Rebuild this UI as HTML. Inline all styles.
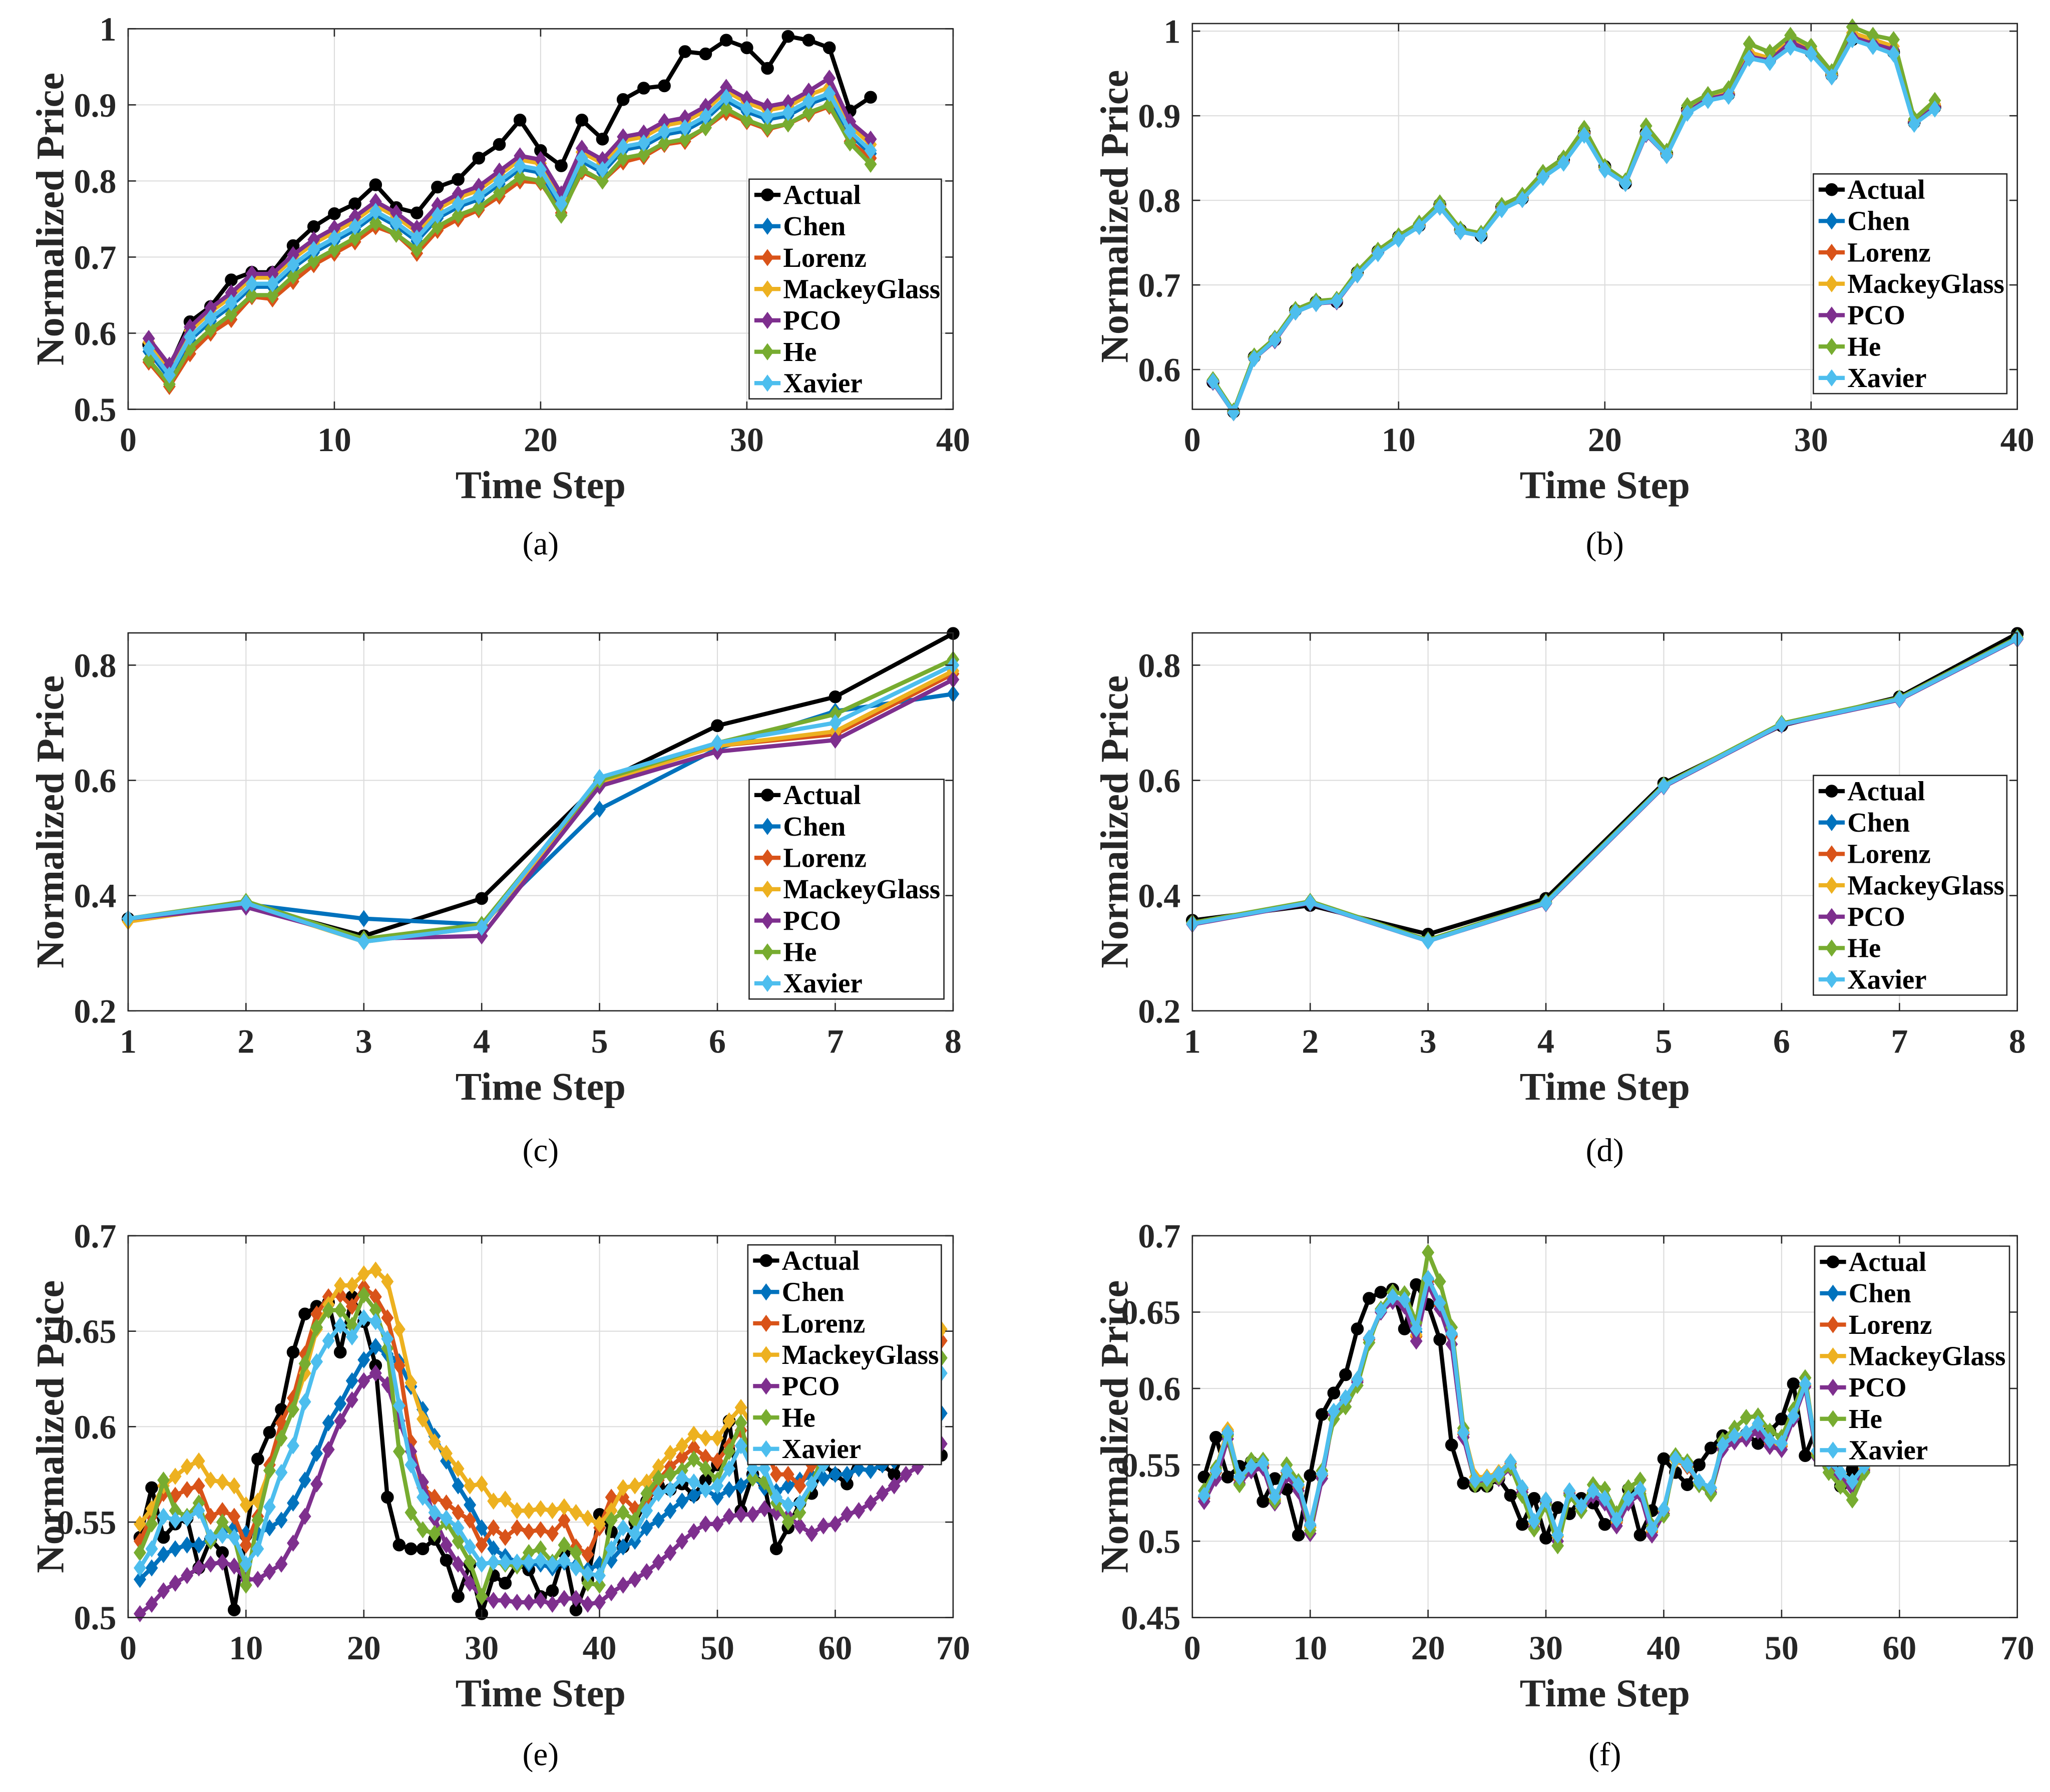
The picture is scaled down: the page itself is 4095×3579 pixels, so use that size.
<!DOCTYPE html>
<html><head><meta charset="utf-8"><title>Normalized price predictions</title>
<style>
html,body{margin:0;padding:0;background:#fff;}
svg{display:block;}
text{font-family:"Liberation Serif","Times New Roman",serif;}
</style></head>
<body>
<svg id="fig" width="4095" height="3579" viewBox="0 0 1568 1370.4" preserveAspectRatio="none" xmlns="http://www.w3.org/2000/svg"></svg>
<script>
// ---------- series names / colours ----------
const seriesNames = ["Actual","Chen","Lorenz","MackeyGlass","PCO","He","Xavier"];
const seriesColors = ["#000000","#0072BD","#D95319","#EDB120","#7E2F8E","#77AC30","#4DBEEE"];

// ---------- panel (a) ----------
const aActual = [.585,.555,.615,.635,.67,.68,.68,.715,.74,.757,.77,.795,.765,.758,.792,.802,.83,.848,.88,.84,.82,.88,.855,.907,.922,.925,.97,.967,.985,.975,.948,.99,.985,.975,.892,.91];
const aChen = [.576,.541,.591,.616,.636,.661,.661,.686,.706,.721,.736,.756,.741,.721,.751,.766,.776,.796,.816,.811,.766,.826,.811,.841,.846,.861,.866,.881,.906,.891,.881,.886,.901,.911,.861,.836];
const aLorenz = [.562,.53,.573,.6,.618,.648,.645,.668,.69,.705,.72,.74,.73,.705,.735,.75,.762,.78,.8,.798,.758,.812,.8,.825,.832,.848,.852,.87,.89,.878,.868,.875,.888,.898,.852,.83];
const aMackey = [.588,.553,.603,.628,.648,.673,.673,.698,.718,.733,.748,.768,.753,.733,.763,.778,.788,.808,.828,.823,.778,.838,.823,.853,.858,.873,.878,.893,.918,.903,.893,.898,.913,.923,.873,.848];
const aPCO = [.593,.558,.608,.633,.653,.678,.678,.703,.723,.738,.753,.773,.758,.738,.768,.783,.793,.813,.833,.828,.783,.843,.828,.858,.863,.878,.883,.898,.923,.908,.898,.903,.918,.935,.878,.855];
const aHe = [.565,.533,.58,.605,.625,.65,.65,.675,.695,.71,.725,.745,.73,.71,.74,.755,.765,.785,.805,.80,.755,.815,.80,.83,.835,.85,.855,.87,.895,.88,.87,.875,.89,.9,.85,.822];
const aXavier = [.58,.545,.595,.62,.64,.665,.665,.69,.71,.725,.74,.76,.745,.725,.755,.77,.78,.80,.82,.815,.77,.83,.815,.845,.85,.865,.87,.885,.91,.895,.885,.89,.905,.915,.865,.84];

// ---------- panel (b) ----------
const bActual = [.585,.55,.615,.635,.67,.68,.68,.715,.74,.757,.77,.795,.765,.758,.792,.802,.83,.848,.88,.84,.82,.88,.855,.907,.922,.925,.97,.967,.985,.975,.948,.99,.985,.975,.892,.91];
const bChen = [.585,.55,.613,.635,.668,.678,.682,.712,.738,.755,.77,.792,.765,.76,.79,.802,.828,.845,.878,.838,.822,.878,.855,.905,.92,.925,.968,.965,.982,.975,.948,.99,.982,.975,.892,.91];
const bLorenz = [.586,.549,.614,.636,.669,.679,.681,.713,.739,.756,.771,.793,.764,.759,.791,.803,.829,.846,.879,.837,.821,.879,.854,.906,.921,.926,.972,.966,.988,.977,.947,.995,.988,.978,.893,.912];
const bMackey = [.586,.55,.614,.635,.669,.679,.681,.713,.739,.756,.771,.794,.764,.759,.791,.803,.829,.846,.88,.838,.821,.88,.855,.907,.922,.927,.975,.968,.99,.979,.949,.998,.99,.982,.894,.914];
const bPCO = [.585,.549,.613,.634,.668,.678,.68,.712,.738,.755,.769,.792,.763,.758,.79,.801,.828,.845,.878,.836,.82,.878,.853,.905,.92,.925,.97,.965,.987,.976,.946,.993,.985,.978,.892,.91];
const bHe = [.588,.551,.616,.637,.671,.681,.683,.716,.741,.758,.773,.797,.766,.761,.794,.806,.833,.85,.885,.84,.823,.888,.858,.912,.925,.932,.985,.975,.995,.982,.952,1.005,.995,.99,.896,.918];
const bXavier = [.586,.549,.613,.635,.668,.678,.681,.712,.737,.754,.769,.792,.763,.758,.789,.801,.827,.844,.877,.836,.82,.879,.853,.903,.918,.923,.968,.963,.981,.973,.946,.99,.982,.973,.89,.908];

// ---------- panel (c) ----------
const cActual = [.36,.385,.33,.395,.595,.695,.745,.855];
const cChen = [.36,.385,.36,.35,.55,.655,.72,.75];
const cLorenz = [.355,.385,.325,.345,.595,.66,.68,.785];
const cMackey = [.355,.385,.32,.345,.595,.66,.685,.79];
const cPCO = [.36,.38,.325,.33,.59,.65,.67,.775];
const cHe = [.36,.39,.325,.35,.6,.665,.715,.81];
const cXavier = [.36,.387,.32,.345,.605,.665,.70,.80];

// ---------- panel (d) ----------
const dActual = [.357,.383,.333,.395,.595,.695,.745,.855];
const dChen = [.352,.388,.323,.388,.59,.697,.741,.847];
const dLorenz = [.352,.388,.322,.387,.59,.697,.741,.846];
const dMackey = [.353,.389,.322,.388,.591,.698,.742,.847];
const dPCO = [.35,.387,.321,.386,.589,.696,.74,.845];
const dHe = [.353,.39,.323,.389,.592,.699,.743,.848];
const dXavier = [.351,.388,.321,.387,.59,.697,.741,.846];

// ---------- panel (e) ----------
const eActual = [.542,.568,.542,.549,.552,.526,.541,.534,.504,.543,.583,.597,.609,.639,.659,.663,.665,.639,.668,.655,.632,.563,.538,.536,.536,.541,.530,.511,.528,.502,.522,.518,.528,.525,.511,.514,.534,.504,.52,.554,.545,.537,.55,.561,.569,.567,.570,.564,.572,.580,.603,.556,.575,.570,.536,.547,.56,.565,.58,.575,.57,.585,.59,.58,.575,.59,.6,.595,.585];
const eChen = [.520,.526,.533,.536,.538,.538,.541,.545,.547,.544,.544,.547,.551,.560,.572,.586,.602,.612,.624,.635,.642,.638,.634,.621,.609,.595,.582,.569,.559,.547,.536,.532,.529,.528,.528,.526,.529,.527,.525,.528,.530,.537,.540,.547,.551,.556,.561,.564,.567,.563,.567,.569,.574,.568,.566,.569,.572,.574,.573,.575,.575,.578,.577,.58,.582,.585,.59,.598,.607];
const eLorenz = [.540,.553,.565,.564,.567,.569,.553,.556,.553,.538,.553,.580,.602,.615,.638,.659,.668,.669,.663,.673,.668,.657,.632,.592,.568,.563,.560,.555,.551,.538,.547,.542,.547,.545,.546,.544,.551,.537,.533,.547,.563,.563,.557,.560,.572,.579,.584,.589,.584,.582,.590,.598,.585,.59,.575,.575,.569,.58,.595,.6,.606,.61,.614,.621,.624,.63,.636,.64,.645];
const eMackey = [.549,.557,.569,.574,.579,.582,.572,.571,.569,.559,.561,.577,.594,.609,.628,.651,.664,.674,.674,.680,.682,.676,.651,.623,.604,.592,.586,.578,.569,.570,.561,.562,.556,.556,.557,.556,.558,.555,.552,.549,.556,.568,.569,.571,.579,.586,.590,.596,.594,.594,.603,.610,.6,.605,.59,.585,.59,.6,.61,.615,.618,.625,.628,.632,.636,.64,.643,.648,.651];
const ePCO = [.502,.507,.514,.518,.522,.526,.528,.529,.527,.520,.520,.524,.528,.539,.553,.570,.588,.603,.614,.624,.628,.622,.603,.587,.571,.552,.538,.528,.518,.511,.509,.509,.508,.508,.509,.507,.510,.510,.507,.508,.513,.517,.520,.524,.529,.534,.540,.545,.549,.549,.553,.554,.554,.557,.555,.553,.548,.544,.548,.549,.554,.556,.560,.565,.569,.575,.579,.584,.591];
const eHe = [.534,.549,.572,.556,.553,.560,.540,.550,.542,.517,.551,.577,.594,.609,.633,.652,.661,.661,.653,.669,.661,.641,.587,.555,.546,.544,.550,.540,.529,.511,.529,.528,.527,.534,.536,.529,.538,.534,.518,.517,.551,.555,.551,.565,.573,.575,.577,.583,.578,.572,.587,.602,.573,.571,.56,.550,.555,.57,.585,.59,.596,.6,.604,.61,.616,.62,.624,.63,.636];
const eXavier = [.526,.536,.553,.551,.552,.556,.542,.543,.542,.528,.536,.558,.576,.590,.613,.634,.645,.653,.647,.657,.655,.646,.611,.580,.563,.555,.552,.547,.537,.528,.529,.529,.529,.529,.530,.528,.530,.526,.523,.522,.536,.547,.544,.556,.565,.567,.573,.571,.567,.569,.578,.590,.578,.578,.563,.559,.560,.57,.58,.585,.59,.596,.6,.604,.61,.616,.62,.624,.628];

// ---------- panel (f) ----------
const fActual = [.542,.568,.542,.549,.552,.526,.541,.534,.504,.543,.583,.597,.609,.639,.659,.663,.665,.639,.668,.655,.632,.563,.538,.536,.536,.541,.530,.511,.528,.502,.522,.518,.528,.525,.511,.514,.534,.504,.52,.554,.545,.537,.55,.561,.569,.567,.570,.564,.572,.580,.603,.556,.575,.570,.536,.547];
const fChen = [.529,.545,.570,.541,.548,.550,.528,.545,.536,.510,.543,.584,.593,.605,.632,.650,.659,.657,.637,.671,.655,.635,.570,.539,.540,.543,.551,.534,.512,.526,.503,.532,.522,.532,.527,.513,.527,.533,.507,.520,.553,.549,.538,.534,.562,.568,.570,.576,.565,.563,.581,.602,.558,.551,.544,.538,.548];
const fLorenz = [.528,.545,.572,.540,.548,.550,.527,.545,.535,.509,.543,.583,.592,.605,.632,.650,.658,.655,.634,.670,.654,.634,.570,.539,.540,.543,.551,.534,.512,.527,.503,.532,.522,.532,.527,.512,.527,.533,.506,.520,.553,.549,.538,.534,.562,.567,.569,.575,.564,.562,.580,.602,.557,.55,.543,.537,.547];
const fMackey = [.530,.547,.573,.541,.549,.549,.528,.546,.536,.509,.544,.584,.593,.606,.633,.651,.659,.656,.635,.672,.656,.636,.572,.542,.542,.545,.552,.535,.512,.527,.503,.532,.522,.533,.527,.513,.527,.533,.507,.520,.553,.550,.538,.534,.562,.568,.570,.576,.565,.563,.581,.602,.558,.551,.544,.538,.548];
const fPCO = [.526,.541,.567,.538,.546,.548,.525,.543,.533,.505,.541,.583,.592,.604,.633,.650,.657,.654,.631,.668,.652,.629,.568,.538,.539,.541,.548,.532,.509,.525,.500,.531,.520,.530,.525,.510,.525,.531,.504,.518,.555,.551,.537,.532,.560,.565,.567,.572,.562,.560,.580,.601,.555,.548,.541,.535,.546];
const fHe = [.533,.548,.569,.537,.553,.553,.526,.550,.539,.507,.546,.580,.588,.602,.630,.652,.663,.662,.643,.689,.670,.640,.574,.537,.537,.542,.549,.530,.508,.524,.497,.530,.520,.537,.534,.518,.535,.540,.510,.517,.556,.552,.537,.531,.566,.574,.581,.582,.572,.568,.586,.607,.556,.545,.536,.527,.545];
const fXavier = [.530,.546,.571,.542,.549,.551,.529,.546,.537,.511,.544,.585,.594,.606,.633,.651,.660,.658,.639,.672,.656,.636,.571,.540,.541,.544,.552,.535,.513,.527,.504,.533,.523,.533,.528,.514,.528,.534,.508,.521,.554,.550,.539,.535,.563,.569,.571,.577,.566,.564,.582,.603,.559,.552,.545,.539,.549];

// ---------- ticks ----------
const ticksX40 = [0,10,20,30,40];
const ticksX8 = [1,2,3,4,5,6,7,8];
const ticksX70 = [0,10,20,30,40,50,60,70];
const ticksYa = [0.5,0.6,0.7,0.8,0.9,1];
const ticksYb = [0.6,0.7,0.8,0.9,1];
const ticksYcd = [0.2,0.4,0.6,0.8];
const ticksYe = [0.5,0.55,0.6,0.65,0.7];
const ticksYf = [0.45,0.5,0.55,0.6,0.65,0.7];
const tickLabYe = ["0.5","0.55","0.6","0.65","0.7"];
const tickLabYf = ["0.45","0.5","0.55","0.6","0.65","0.7"];

const NS = "http://www.w3.org/2000/svg";
const svg = document.getElementById("fig");
function mk(tag, attrs, parent){
  const e = document.createElementNS(NS, tag);
  for (const k in attrs) e.setAttribute(k, attrs[k]);
  (parent||svg).appendChild(e);
  return e;
}
function marker(g, kind, x, y, color){
  let m;
  if (kind === "o") {
    m = mk("circle", {cx:x, cy:y, r:4.4, fill:color, stroke:color, "stroke-width":1}, g);
  } else {
    const s = 5.2;
    m = mk("polygon", {points:`${x},${y-s*1.1} ${x+s*0.8},${y} ${x},${y+s*1.1} ${x-s*0.8},${y}`, fill:color, stroke:color, "stroke-width":1}, g);
  }
  return m;
}

function panel(cfg){
  const g = mk("g", {});
  
  
  const {L,R,T,B,x0,x1,y0,y1} = cfg;
  const sx = v => L + (v - x0) / (x1 - x0) * (R - L);
  const sy = v => B - (v - y0) / (y1 - y0) * (B - T);
  // grid
  const grid = mk("g", {stroke:"#dcdcdc", "stroke-width":0.8}, g);
  
  
  cfg.xt.forEach(v => mk("line", {x1:sx(v), x2:sx(v), y1:T, y2:B}, grid));
  cfg.yt.forEach(v => mk("line", {x1:L, x2:R, y1:sy(v), y2:sy(v)}, grid));
  // series
  cfg.series.forEach((vals, si) => {
    const sg = mk("g", {}, g);
    
    
    const pts = vals.map((v, i) => sx(cfg.xs0 + i) + "," + sy(v)).join(" ");
    const pl = mk("polyline", {points:pts, fill:"none", stroke:seriesColors[si], "stroke-width":3.2, "stroke-linejoin":"round"}, sg);
    
    
    vals.forEach((v, i) => {
      const m = marker(sg, si === 0 ? "o" : "d", sx(cfg.xs0 + i), sy(v), seriesColors[si]);
      
      
    });
  });
  // axes box + ticks
  const ax = mk("g", {stroke:"#262626", "stroke-width":1, fill:"none"}, g);
  
  
  mk("rect", {x:L, y:T, width:R-L, height:B-T}, ax);
  cfg.xt.forEach(v => { mk("line", {x1:sx(v), x2:sx(v), y1:B, y2:B-6}, ax); mk("line", {x1:sx(v), x2:sx(v), y1:T, y2:T+6}, ax); });
  cfg.yt.forEach(v => { mk("line", {x1:L, x2:L+6, y1:sy(v), y2:sy(v)}, ax); mk("line", {x1:R, x2:R-6, y1:sy(v), y2:sy(v)}, ax); });
  // tick labels
  cfg.xt.forEach(v => {
    const t = mk("text", {x:sx(v), y:B+32, "text-anchor":"middle", "font-size":26, "font-weight":"bold", fill:"#262626"}, g);
    t.textContent = String(v);
    
    
  });
  cfg.yt.forEach((v, i) => {
    const t = mk("text", {x:L-9, y:sy(v)+9, "text-anchor":"end", "font-size":26, "font-weight":"bold", fill:"#262626"}, g);
    t.textContent = cfg.ytl ? cfg.ytl[i] : String(v);
    
    
  });
  // axis titles
  const xl = mk("text", {x:(L+R)/2, y:B+68, "text-anchor":"middle", "font-size":30, "font-weight":"bold", fill:"#262626"}, g);
  xl.textContent = "Time Step";
  
  
  const ycx = cfg.ylx, ycy = (T+B)/2;
  const yl = mk("text", {x:ycx, y:ycy, "text-anchor":"middle", "font-size":30, "font-weight":"bold", fill:"#262626", transform:`rotate(-90 ${ycx} ${ycy})`, dy:"0.35em"}, g);
  yl.textContent = "Normalized Price";
  
  
  // caption
  const cp = mk("text", {x:(L+R)/2, y:cfg.capY, "text-anchor":"middle", "font-size":25, fill:"#000"}, g);
  cp.textContent = "(" + cfg.id + ")";
  
  
  // legend
  const lg = mk("g", {}, g);
  
  
  const [lx, ly, lw] = cfg.leg;
  mk("rect", {x:lx, y:ly, width:lw, height:168, fill:"#fff", stroke:"#262626", "stroke-width":1}, lg);
  seriesNames.forEach((n, i) => {
    const e = mk("g", {}, lg);
    
    
    const yy = ly + 12 + i * 24;
    mk("line", {x1:lx+4, x2:lx+24, y1:yy, y2:yy, stroke:seriesColors[i], "stroke-width":3.2}, e);
    marker(e, i === 0 ? "o" : "d", lx+14, yy, seriesColors[i]);
    const t = mk("text", {x:lx+26, y:yy+7, "font-size":21, "font-weight":"bold", fill:"#000"}, e);
    t.textContent = n;
  });
}

panel({id:"a", L:98, R:729, T:22, B:313, x0:0, x1:40, y0:0.5, y1:1, xs0:1, xt:ticksX40, yt:ticksYa, ylx:38, capY:424, leg:[573,137,147],
  series:[aActual,aChen,aLorenz,aMackey,aPCO,aHe,aXavier]});
panel({id:"b", L:912, R:1543, T:18, B:313, x0:0, x1:40, y0:0.553, y1:1.009, xs0:1, xt:ticksX40, yt:ticksYb, ylx:852, capY:424, leg:[1387,133,148],
  series:[bActual,bChen,bLorenz,bMackey,bPCO,bHe,bXavier]});
panel({id:"c", L:98, R:729, T:484, B:773, x0:1, x1:8, y0:0.2, y1:0.856, xs0:1, xt:ticksX8, yt:ticksYcd, ylx:38, capY:888, leg:[573,596,149],
  series:[cActual,cChen,cLorenz,cMackey,cPCO,cHe,cXavier]});
panel({id:"d", L:912, R:1543, T:484, B:773, x0:1, x1:8, y0:0.2, y1:0.856, xs0:1, xt:ticksX8, yt:ticksYcd, ylx:852, capY:888, leg:[1387,593,148],
  series:[dActual,dChen,dLorenz,dMackey,dPCO,dHe,dXavier]});
panel({id:"e", L:98, R:729, T:945, B:1237, x0:0, x1:70, y0:0.5, y1:0.7, xs0:1, xt:ticksX70, yt:ticksYe, ytl:tickLabYe, ylx:38, capY:1350, leg:[572,952,148],
  series:[eActual,eChen,eLorenz,eMackey,ePCO,eHe,eXavier]});
panel({id:"f", L:912, R:1543, T:945, B:1237, x0:0, x1:70, y0:0.45, y1:0.7, xs0:1, xt:ticksX70, yt:ticksYf, ytl:tickLabYf, ylx:852, capY:1350, leg:[1388,953,149],
  series:[fActual,fChen,fLorenz,fMackey,fPCO,fHe,fXavier]});
</script>
</body></html>
